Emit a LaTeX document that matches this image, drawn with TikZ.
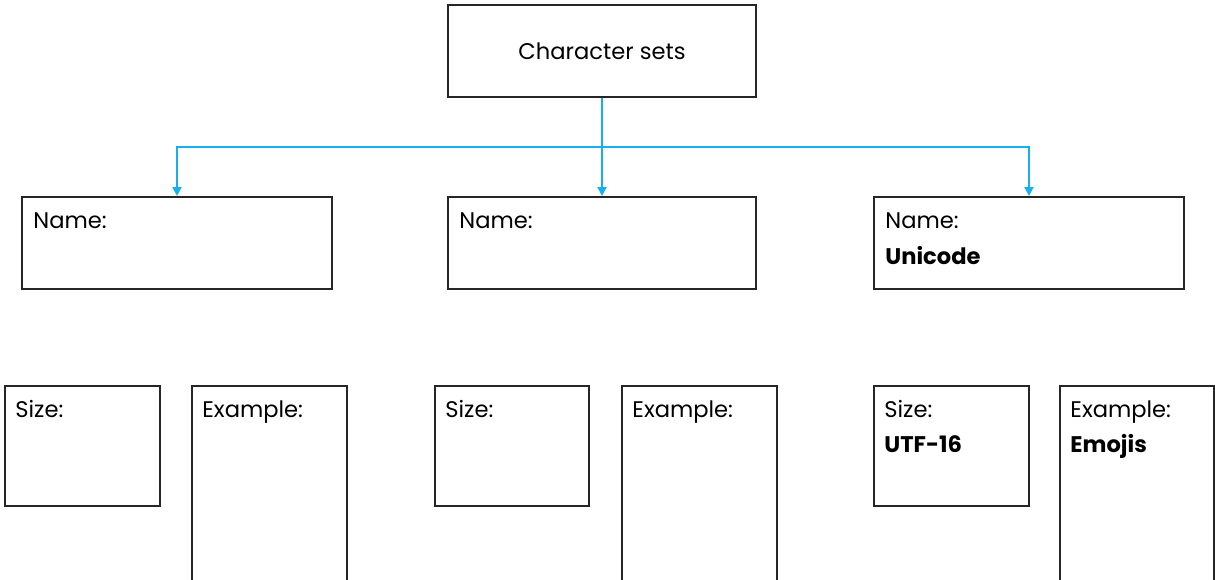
\documentclass[tikz,border=0pt]{standalone}
\usepackage{fontspec}
\setmainfont{Poppins}
\usetikzlibrary{arrows.meta}
\definecolor{linkblue}{RGB}{20,176,240}
\tikzset{
  box/.style={draw=black!85, line width=1pt, rectangle, inner sep=0pt},
  field/.style={anchor=base west, inner sep=0pt, font=\fontsize{11.3}{14}\selectfont},
  value/.style={anchor=base west, inner sep=0pt, font=\fontsize{11.3}{14}\selectfont\bfseries},
  link/.style={draw=linkblue, line width=1pt, -{Triangle[width=4.5pt,length=4.5pt]}},
}
\begin{document}
\begin{tikzpicture}[x=0.5pt, y=-0.5pt]
\useasboundingbox (0,0) rectangle (1215,579);
\clip (0,0) rectangle (1215,579);
% top box
\node[box, minimum width=154pt, minimum height=46pt, font=\fontsize{11.3}{14}\selectfont] (top) at (602,51) {Character sets};
% middle row
\node[box, minimum width=155pt, minimum height=46pt] (n1) at (177,243) {};
\node[box, minimum width=154pt, minimum height=46pt] (n2) at (602,243) {};
\node[box, minimum width=155pt, minimum height=46pt] (n3) at (1029,243) {};
% bottom row: size boxes
\node[box, minimum width=77.5pt, minimum height=60pt] (s1) at (82.5,446) {};
\node[box, minimum width=77pt, minimum height=60pt] (s2) at (512,446) {};
\node[box, minimum width=77.5pt, minimum height=60pt] (s3) at (951.5,446) {};
% bottom row: example boxes (run past the lower edge)
\node[box, minimum width=77.5pt, minimum height=110pt] (e1) at (269.5,496) {};
\node[box, minimum width=77.5pt, minimum height=110pt] (e2) at (699.5,496) {};
\node[box, minimum width=77pt, minimum height=110pt] (e3) at (1137,496) {};
% labels
\node[field] at ([xshift=6pt,yshift=-16pt]n1.north west) {Name:};
\node[field] at ([xshift=6pt,yshift=-16pt]n2.north west) {Name:};
\node[field] at ([xshift=6pt,yshift=-16pt]n3.north west) {Name:};
\node[value] at ([xshift=6pt,yshift=-34pt]n3.north west) {Unicode};
\node[field] at ([xshift=5.5pt,yshift=-16pt]s1.north west) {Size:};
\node[field] at ([xshift=5.5pt,yshift=-16pt]s2.north west) {Size:};
\node[field] at ([xshift=5.5pt,yshift=-16pt]s3.north west) {Size:};
\node[value] at ([xshift=5.5pt,yshift=-33.5pt]s3.north west) {UTF-16};
\node[field] at ([xshift=5.5pt,yshift=-16pt]e1.north west) {Example:};
\node[field] at ([xshift=5.5pt,yshift=-16pt]e2.north west) {Example:};
\node[field] at ([xshift=5.5pt,yshift=-16pt]e3.north west) {Example:};
\node[value] at ([xshift=5.5pt,yshift=-33.5pt]e3.north west) {Emojis};
% connectors
\coordinate (split) at (602,147);
\draw[link] (top.south) -- (n2.north);
\draw[link] (split) -| (n1.north);
\draw[link] (split) -| (n3.north);
\end{tikzpicture}
\end{document}
